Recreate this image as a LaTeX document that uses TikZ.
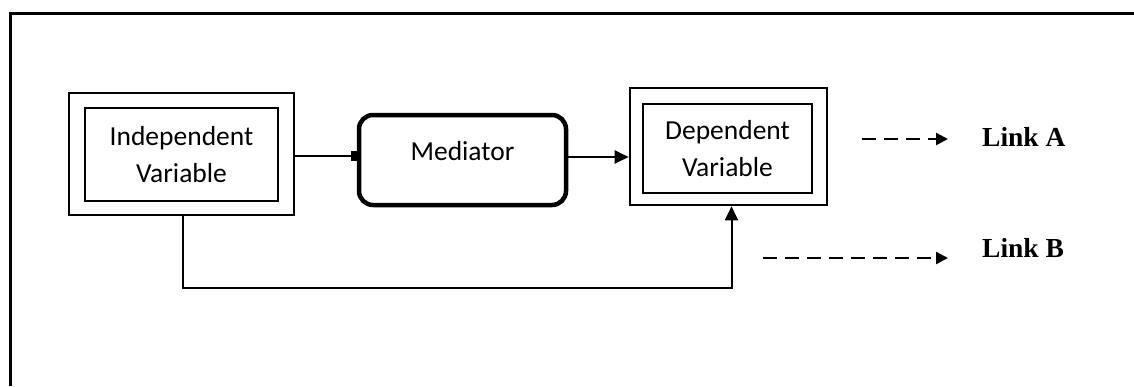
\documentclass[tikz,border=0pt]{standalone}
\usepackage{fontspec}
\setmainfont{Carlito}
\newfontfamily\linkfont{Liberation Serif}
\usetikzlibrary{arrows.meta,calc}
\begin{document}
\begin{tikzpicture}[x=1pt,y=-1pt,
  boxline/.style={draw,line width=2.6pt},
  innerbox/.style={boxline,align=center,font=\fontsize{27.5}{37}\selectfont},
  medbox/.style={draw,line width=4.5pt,rounded corners=14pt,align=center,font=\fontsize{27.5}{37}\selectfont},
  conn/.style={line width=2pt},
  arr/.style={conn,-{Triangle[length=14pt,width=13pt]}},
  sqarr/.style={conn,-{Rectangle[length=6pt,width=10pt]}},
  dasharr/.style={line width=2.4pt,dash pattern=on 14pt off 8pt,-{Triangle[length=12pt,width=12pt]}},
  linklabel/.style={font=\linkfont\bfseries\fontsize{27.5}{32}\selectfont,anchor=west,inner sep=0pt}
]
\useasboundingbox (0,0) rectangle (1134,386);
% frame
\draw[line width=3pt] (10,386) -- (10,13) -- (1134,13);
% Independent variable
\node[boxline,minimum width=225pt,minimum height=122pt] (iv) at (181.5,154) {};
\node[innerbox,minimum width=193pt,minimum height=93pt] (ivin) at (181.5,154.5) {Independent\\Variable};
% Mediator
\node[medbox,minimum width=207pt,minimum height=90pt,text height=20pt,text depth=20pt] (med) at (462.5,160) {Mediator};
% Dependent variable
\node[boxline,minimum width=197pt,minimum height=117pt] (dv) at (728.5,146.5) {};
\node[innerbox,minimum width=169pt,minimum height=89pt] (dvin) at (727.5,148.5) {Dependent\\Variable};
% connectors
\coordinate (ivout) at (iv.east |- 0,156);
\draw[sqarr] (ivout) -- (ivout -| med.west);
\coordinate (medout) at (med.east |- 0,157);
\draw[arr] (medout) -- (medout -| dv.west);
\coordinate (turn) at ($(dv.south)+(3,82)$);
\coordinate (ivdown) at ($(iv.south)+(1.5,0)$);
\draw[arr] (ivdown) |- (turn) -- (turn |- dv.south);
% legend
\node[linklabel] (la) at (982,137) {Link A};
\node[linklabel] (lb) at (982,248) {Link B};
\coordinate (la1) at (862,139);
\coordinate (la2) at (948,139);
\coordinate (lb1) at (763,258);
\coordinate (lb2) at (948,258);
\draw[dasharr] (la1) -- (la2);
\draw[dasharr] (lb1) -- (lb2);
\end{tikzpicture}
\end{document}
